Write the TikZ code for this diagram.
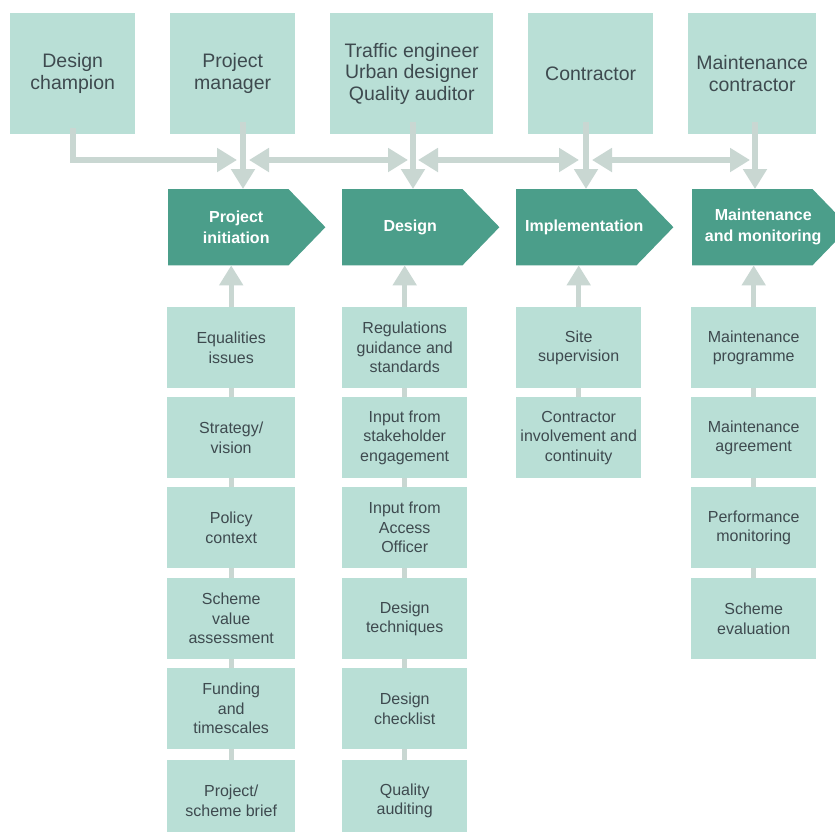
\documentclass[tikz,border=0pt]{standalone}
\usepackage{fontspec}
\setmainfont{Liberation Sans}
\usetikzlibrary{arrows.meta}
\definecolor{boxc}{HTML}{B9DFD6}
\definecolor{phasec}{HTML}{4B9E8A}
\definecolor{linec}{HTML}{C9D7D2}
\definecolor{txtc}{HTML}{3E4A4F}
\begin{document}
\begin{tikzpicture}[x=1pt,y=-1pt,
  topbox/.style={fill=boxc, draw=none, minimum height=121pt, anchor=north west,
    align=center, text=txtc, font=\fontsize{19.5}{21.5}\selectfont, inner sep=0pt},
  detbox/.style={fill=boxc, draw=none, minimum width=125pt, minimum height=81pt, anchor=north west,
    align=center, text=txtc, font=\fontsize{16}{19.5}\selectfont, inner sep=0pt},
  phasebody/.style={draw=none, minimum width=120pt, minimum height=76pt, anchor=north west, inner sep=0pt},
  phasetxt/.style={align=center, text=white, font=\bfseries\fontsize{16}{21}\selectfont, inner sep=0pt},
  tip/.style={-{Triangle[length=20pt,width=23pt]}},
  dtip/.style={{Triangle[length=20pt,width=23pt]}-{Triangle[length=20pt,width=23pt]}},
  conn/.style={draw=linec, line width=6pt, line join=miter},
  dconn/.style={draw=linec, line width=5pt},
]
\clip (0,0) rectangle (835,831);
\fill[white] (0,0) rectangle (835,831);

% top role boxes
\node[topbox, minimum width=125pt] (dc) at (10,13) {Design\\champion};
\node[topbox, minimum width=125pt] (pm) at (170,13) {Project\\manager};
\node[topbox, minimum width=163pt] (te) at (330,13) {Traffic engineer\\Urban designer\\Quality auditor};
\node[topbox, minimum width=125pt] (co) at (528,13) {Contractor};
\node[topbox, minimum width=128pt] (mc) at (688,13) {Maintenance\\contractor};

% phase chevrons
\node[phasebody] (p1) at (168,189) {};
\node[phasebody] (p2) at (342,189) {};
\node[phasebody] (p3) at (516,189) {};
\node[phasebody] (p4) at (692,189) {};
\foreach \p in {p1,p2,p3,p4}{
  \fill[phasec] (\p.north west) -- (\p.north east) -- ([xshift=37pt]\p.east)
    -- (\p.south east) -- (\p.south west) -- cycle;
}
\node[phasetxt] (t1) at ([xshift=8pt]p1.center) {Project\\initiation};
\node[phasetxt] (t2) at ([xshift=8pt]p2.center) {Design};
\node[phasetxt] (t3) at ([xshift=8pt]p3.center) {Implementation};
\node[phasetxt] (t4) at ([xshift=11pt]p4.center) {Maintenance\\and monitoring};

% vertical positions of the role connectors
\coordinate (v1) at (243,160);
\coordinate (v2) at (413,160);
\coordinate (v3) at (586,160);
\coordinate (v4) at (755,160);

% role to phase arrows
\draw[conn, tip] ([yshift=12pt]v1 |- pm.south) -- (v1 |- p1.north);
\draw[conn, tip] ([yshift=12pt]v2 |- te.south) -- (v2 |- p2.north);
\draw[conn, tip] ([yshift=12pt]v3 |- co.south) -- (v3 |- p3.north);
\draw[conn, tip] ([yshift=12pt]v4 |- mc.south) -- (v4 |- p4.north);
\draw[conn, tip] ([yshift=6pt]dc.south) |- ([xshift=-6pt]v1);
\draw[conn, dtip] ([xshift=6pt]v1) -- ([xshift=-5pt]v2);
\draw[conn, dtip] ([xshift=5pt]v2) -- ([xshift=-7pt]v3);
\draw[conn, dtip] ([xshift=6pt]v3) -- ([xshift=-5pt]v4);

% detail boxes column 1
\node[detbox, minimum width=128pt] (a1) at (167,307) {Equalities\\issues};
\node[detbox, minimum width=128pt] (a2) at (167,397) {Strategy/\\vision};
\node[detbox, minimum width=128pt] (a3) at (167,487) {Policy\\context};
\node[detbox, minimum width=128pt] (a4) at (167,578) {Scheme\\value\\assessment};
\node[detbox, minimum width=128pt] (a5) at (167,668) {Funding\\and\\timescales};
\node[detbox, minimum width=128pt] (a6) at (167,760) {Project/\\scheme brief};
% column 2
\node[detbox] (b1) at (342,307) {Regulations\\guidance and\\standards};
\node[detbox] (b2) at (342,397) {Input from\\stakeholder\\engagement};
\node[detbox] (b3) at (342,487) {Input from\\Access\\Officer};
\node[detbox] (b4) at (342,578) {Design\\techniques};
\node[detbox] (b5) at (342,668) {Design\\checklist};
\node[detbox] (b6) at (342,760) {Quality\\auditing};
% column 3
\node[detbox] (c1) at (516,307) {Site\\supervision};
\node[detbox] (c2) at (516,397) {Contractor\\involvement and\\continuity};
% column 4
\node[detbox] (d1) at (691,307) {Maintenance\\programme};
\node[detbox] (d2) at (691,397) {Maintenance\\agreement};
\node[detbox] (d3) at (691,487) {Performance\\monitoring};
\node[detbox] (d4) at (691,578) {Scheme\\evaluation};

% detail to phase arrows
\draw[dconn, tip] (a1.north) -- (a1.north |- p1.south);
\draw[dconn, tip] (b1.north) -- (b1.north |- p2.south);
\draw[dconn, tip] (c1.north) -- (c1.north |- p3.south);
\draw[dconn, tip] (d1.north) -- (d1.north |- p4.south);

% links between detail boxes
\draw[dconn] (a1.south) -- (a2.north);
\draw[dconn] (a2.south) -- (a3.north);
\draw[dconn] (a3.south) -- (a4.north);
\draw[dconn] (a4.south) -- (a5.north);
\draw[dconn] (a5.south) -- (a6.north);
\draw[dconn] (b1.south) -- (b2.north);
\draw[dconn] (b2.south) -- (b3.north);
\draw[dconn] (b3.south) -- (b4.north);
\draw[dconn] (b4.south) -- (b5.north);
\draw[dconn] (b5.south) -- (b6.north);
\draw[dconn] (c1.south) -- (c2.north);
\draw[dconn] (d1.south) -- (d2.north);
\draw[dconn] (d2.south) -- (d3.north);
\draw[dconn] (d3.south) -- (d4.north);
\end{tikzpicture}
\end{document}
